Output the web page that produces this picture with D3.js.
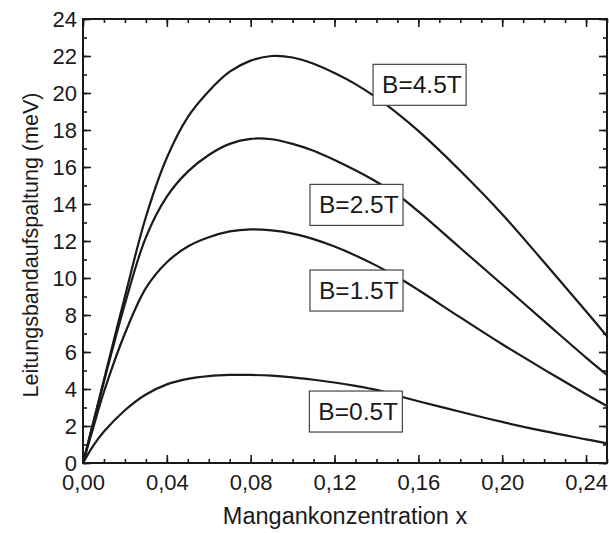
<!DOCTYPE html>
<html>
<head>
<meta charset="utf-8">
<script src="https://cdn.jsdelivr.net/npm/d3@7"></script>
<style>
  body { margin: 0; background: #fff; }
  svg text { font-family: "Liberation Sans", Arial, sans-serif; fill: #1a1a1a; }
</style>
</head>
<body>
<div id="chart"></div>
<script>
// Data
const xValues = [0, 0.005, 0.01, 0.02, 0.03, 0.04, 0.05, 0.06, 0.07, 0.08, 0.09, 0.10,
  0.11, 0.12, 0.13, 0.14, 0.15, 0.16, 0.18, 0.20, 0.22, 0.24, 0.25]

const b45 = [0, 2.25, 4.5, 9.0, 13.3, 16.5, 18.7, 20.1, 21.15, 21.75, 22.0, 21.92,
  21.58, 21.08, 20.48, 19.75, 18.9, 17.95, 15.8, 13.45, 10.85, 8.2, 6.85]
const b25 = [0, 2.2, 4.4, 8.6, 12.2, 14.4, 15.75, 16.65, 17.25, 17.52, 17.5, 17.25,
  16.88, 16.38, 15.82, 15.2, 14.5, 13.6, 11.62, 9.65, 7.67, 5.7, 4.76]
const b15 = [0, 1.95, 3.85, 7.0, 9.45, 10.85, 11.7, 12.2, 12.52, 12.63, 12.57, 12.4,
  12.1, 11.7, 11.22, 10.67, 10.05, 9.35, 7.87, 6.42, 5.05, 3.72, 3.08]
const b05 = [0, 0.95, 1.7, 2.85, 3.7, 4.25, 4.55, 4.7, 4.76, 4.76, 4.72, 4.63,
  4.5, 4.35, 4.17, 3.95, 3.64, 3.34, 2.77, 2.22, 1.72, 1.28, 1.06]

const seriesNames = ['B=4.5T', 'B=2.5T', 'B=1.5T', 'B=0.5T']
// label boxes, top-left corner in data units
const labelX = [0.1384, 0.1083, 0.1083, 0.108]
const labelY = [21.55, 15.06, 10.43, 3.89]

const xMajorTicks = [0, 0.04, 0.08, 0.12, 0.16, 0.20, 0.24]
const xMinorTicks = d3.range(0, 0.251, 0.01)
const yMajorTicks = d3.range(0, 25, 2)
const yMinorTicks = d3.range(0, 25, 1)

const xTitle = 'Mangankonzentration x'
const yTitle = 'Leitungsbandaufspaltung (meV)'

// Layout
var width = 609
var height = 533
var plot = { left: 83, right: 607, top: 19, bottom: 463 }

const xScale = d3.scaleLinear().domain([0, 0.25]).range([plot.left, plot.right])
const yScale = d3.scaleLinear().domain([0, 24]).range([plot.bottom, plot.top])

var svg = d3.select('#chart')
  .append('svg')
  .attr('width', width)
  .attr('height', height)

const fmt = (d) => d3.format('.2f')(d).replace('.', ',')

// curves
const allSeries = [b45, b25, b15, b05]
const line = d3.line()
  .x((d, i) => xScale(xValues[i]))
  .y((d) => yScale(d))
  .curve(d3.curveCatmullRom.alpha(0.5))

svg.append('g')
  .selectAll('path')
  .data(allSeries)
  .enter()
  .append('path')
  .attr('d', (d) => line(d))
  .attr('fill', 'none')
  .attr('stroke', '#1a1a1a')
  .attr('stroke-width', 2.2)

// label boxes (white fill covers the curves)
const boxW = 93, boxH = 41
const labels = svg.append('g')
  .selectAll('g')
  .data(seriesNames)
  .enter()
  .append('g')
  .attr('transform', (d, i) => `translate(${xScale(labelX[i])}, ${yScale(labelY[i])})`)

labels.append('rect')
  .attr('width', boxW)
  .attr('height', boxH)
  .attr('fill', '#fff')
  .attr('stroke', '#444')
  .attr('stroke-width', 1.2)

labels.append('text')
  .attr('x', 9)
  .attr('y', 28.5)
  .style('font-size', '24.5px')
  .text((d) => d)

// axes, ticks pointing inward on all four sides
function styleAxis(g) {
  g.select('.domain').remove()
  g.selectAll('line').attr('stroke', '#1a1a1a').attr('stroke-width', 1.6)
  g.selectAll('text').style('font-size', '22px').attr('fill', '#1a1a1a')
}

svg.append('g')
  .attr('transform', `translate(0, ${plot.bottom})`)
  .call(d3.axisBottom(xScale).tickValues(xMinorTicks).tickSize(-4).tickFormat(''))
  .call(styleAxis)
svg.append('g')
  .attr('transform', `translate(0, ${plot.bottom})`)
  .call(d3.axisBottom(xScale).tickValues(xMajorTicks).tickSize(-8).tickPadding(11).tickFormat(fmt))
  .call(styleAxis)

svg.append('g')
  .attr('transform', `translate(0, ${plot.top})`)
  .call(d3.axisTop(xScale).tickValues(xMinorTicks).tickSize(-4).tickFormat(''))
  .call(styleAxis)
svg.append('g')
  .attr('transform', `translate(0, ${plot.top})`)
  .call(d3.axisTop(xScale).tickValues(xMajorTicks).tickSize(-8).tickFormat(''))
  .call(styleAxis)

svg.append('g')
  .attr('transform', `translate(${plot.left}, 0)`)
  .call(d3.axisLeft(yScale).tickValues(yMinorTicks).tickSize(-4).tickFormat(''))
  .call(styleAxis)
svg.append('g')
  .attr('transform', `translate(${plot.left}, 0)`)
  .call(d3.axisLeft(yScale).tickValues(yMajorTicks).tickSize(-8).tickPadding(6).tickFormat(d3.format('d')))
  .call(styleAxis)

svg.append('g')
  .attr('transform', `translate(${plot.right}, 0)`)
  .call(d3.axisRight(yScale).tickValues(yMinorTicks).tickSize(-4).tickFormat(''))
  .call(styleAxis)
svg.append('g')
  .attr('transform', `translate(${plot.right}, 0)`)
  .call(d3.axisRight(yScale).tickValues(yMajorTicks).tickSize(-8).tickFormat(''))
  .call(styleAxis)

// frame
svg.append('rect')
  .attr('x', plot.left)
  .attr('y', plot.top)
  .attr('width', plot.right - plot.left)
  .attr('height', plot.bottom - plot.top)
  .attr('fill', 'none')
  .attr('stroke', '#1a1a1a')
  .attr('stroke-width', 2)

// axis titles
svg.append('text')
  .attr('x', (plot.left + plot.right) / 2)
  .attr('y', 524)
  .attr('text-anchor', 'middle')
  .style('font-size', '23.5px')
  .text(xTitle)

svg.append('text')
  .attr('transform', `translate(38, 245) rotate(-90)`)
  .attr('text-anchor', 'middle')
  .style('font-size', '21.5px')
  .text(yTitle)
</script>
</body>
</html>
